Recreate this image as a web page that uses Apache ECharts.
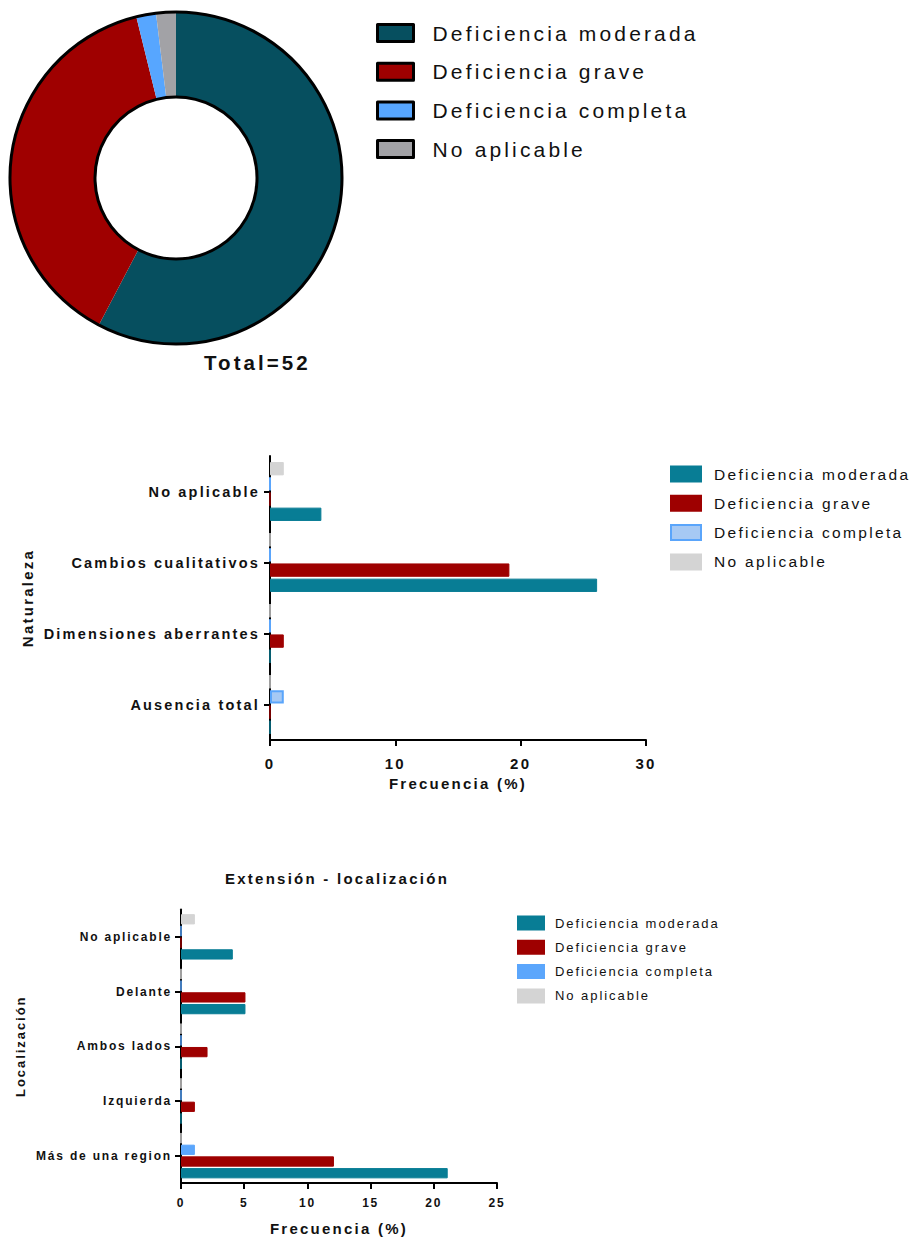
<!DOCTYPE html>
<html>
<head>
<meta charset="utf-8">
<script src="https://cdn.jsdelivr.net/npm/echarts@6/dist/echarts.min.js"></script>
<style>
  html, body { margin: 0; padding: 0; background: #fff; }
  .panel { position: absolute; left: 0; width: 915px; }
  /* spaced-out lettering used throughout the figure */
  .panel text { letter-spacing: 0.15em; }
</style>
</head>
<body>
<div id="c1" class="panel" style="top:0;height:400px"></div>
<div id="c2" class="panel" style="top:400px;height:420px"></div>
<div id="c3" class="panel" style="top:820px;height:421px"></div>
<script>
// ---- data ----
const severityNames = ['Deficiencia moderada', 'Deficiencia grave', 'Deficiencia completa', 'No aplicable'];
const patientCounts = [30, 20, 1, 1];

const natureCategories = ['Ausencia total', 'Dimensiones aberrantes', 'Cambios cualitativos', 'No aplicable'];
const natureModerada = [0, 0, 26.1, 4.1];
const natureGrave = [0, 1.1, 19.1, 0];
const natureCompleta = [1.1, 0, 0, 0];
const natureNoAplicable = [0, 0, 0, 1.1];
const natureTicks = [0, 10, 20, 30];

const locationCategories = ['Más de una region', 'Izquierda', 'Ambos lados', 'Delante', 'No aplicable'];
const locationModerada = [21.1, 0, 0, 5.1, 4.1];
const locationGrave = [12.1, 1.1, 2.1, 5.1, 0];
const locationCompleta = [1.1, 0, 0, 0, 0];
const locationNoAplicable = [0, 0, 0, 0, 1.1];
const locationTicks = [0, 5, 10, 15, 20, 25];

// ---- styling ----
const FONT = '"Liberation Sans", Arial, Helvetica, sans-serif';
const INK = '#111';
const pieColors = ['#064f5f', '#9f0000', '#57a6ff', '#a2a2a6'];
const barColors = ['#087d95', '#9e0000', '#5ba6fc', '#d4d4d4'];

// ---- donut: severity distribution ----
const total = patientCounts.reduce((a, b) => a + b, 0);
const c1 = echarts.init(document.getElementById('c1'), null, { renderer: 'svg' });
c1.setOption({
  animation: false,
  textStyle: { fontFamily: FONT },
  title: {
    text: 'Total=' + total, left: 204, top: 352, padding: 0,
    textStyle: { fontSize: 20.5, fontWeight: 'bold', color: INK, fontFamily: FONT }
  },
  legend: {
    orient: 'vertical', left: 376, top: 21, padding: 0,
    itemWidth: 36, itemHeight: 17, itemGap: 14.7, icon: 'rect',
    data: severityNames,
    itemStyle: { borderColor: '#000', borderWidth: 3 },
    textStyle: { fontSize: 21, color: INK, lineHeight: 24, padding: [0, 0, 0, 14], fontFamily: FONT }
  },
  series: [
    {
      type: 'pie', center: [176, 178], radius: [81, 166], startAngle: 90,
      silent: true, label: { show: false }, labelLine: { show: false },
      itemStyle: { borderWidth: 0 },
      data: severityNames.map((n, i) => ({ name: n, value: patientCounts[i], itemStyle: { color: pieColors[i] } }))
    },
    {
      // black outline of the ring
      type: 'pie', center: [176, 178], radius: [81, 166], z: 5,
      silent: true, label: { show: false }, labelLine: { show: false },
      itemStyle: { color: 'rgba(0,0,0,0)', borderColor: '#000', borderWidth: 3 },
      data: [{ value: 1 }]
    }
  ]
});

// ---- horizontal grouped bars ----
// Series are added last-to-first so that "Deficiencia moderada" sits at the
// bottom of each category group; the legend keeps the natural order.
function barSeries(values, gap, catGap) {
  const list = values.map((d, i) => {
    const isCompleta = i === 2 && gap.lightCompleta;
    return {
      name: severityNames[i], type: 'bar', data: d,
      barGap: gap.barGap, barCategoryGap: catGap,
      itemStyle: isCompleta
        ? { color: '#a6c9f4', borderColor: '#5aa5fb', borderWidth: 2 }
        : { color: barColors[i], borderColor: barColors[i], borderWidth: 1 }
    };
  });
  return list.reverse();
}

function barOption(o) {
  return {
    animation: false,
    textStyle: { fontFamily: FONT },
    title: o.title ? {
      text: o.title, left: o.titleLeft, top: o.titleTop, padding: 0,
      textStyle: { fontSize: o.titleSize, fontWeight: 'bold', color: INK, fontFamily: FONT }
    } : undefined,
    legend: {
      orient: 'vertical', left: o.legend.left, top: o.legend.top, padding: 0,
      itemWidth: o.legend.w, itemHeight: o.legend.h, itemGap: o.legend.gap, icon: 'rect',
      data: severityNames,
      textStyle: { fontSize: o.legend.fs, lineHeight: o.legend.lh, color: INK, padding: [0, 0, 0, o.legend.pad], fontFamily: FONT }
    },
    grid: o.grid,
    xAxis: {
      type: 'value', min: o.ticks[0], max: o.ticks[o.ticks.length - 1], interval: o.ticks[1] - o.ticks[0],
      name: 'Frecuencia (%)', nameLocation: 'middle', nameGap: o.xNameGap,
      nameTextStyle: { fontSize: o.xNameSize, fontWeight: 'bold', color: INK, fontFamily: FONT },
      axisLine: { show: true, lineStyle: { color: '#000', width: 2 } },
      axisTick: { show: true, length: 6, lineStyle: { color: '#000', width: 2 } },
      splitLine: { show: false },
      axisLabel: { fontSize: o.xLabelSize, fontWeight: 'bold', color: INK, margin: o.xLabelMargin, fontFamily: FONT }
    },
    yAxis: {
      type: 'category', data: o.categories,
      name: o.yName, nameLocation: 'middle', nameGap: o.yNameGap,
      nameTextStyle: { fontSize: o.yNameSize, fontWeight: 'bold', color: INK, fontFamily: FONT },
      axisLine: { show: true, lineStyle: { color: '#000', width: 2 } },
      axisTick: { show: true, alignWithLabel: true, length: 6, lineStyle: { color: '#000', width: 2 } },
      splitLine: { show: false },
      axisLabel: { fontSize: o.yLabelSize, fontWeight: 'bold', color: INK, margin: o.yLabelMargin, fontFamily: FONT }
    },
    series: barSeries(o.values, { barGap: '14%', lightCompleta: o.lightCompleta }, o.catGap)
  };
}

// ---- Naturaleza ----
const c2 = echarts.init(document.getElementById('c2'), null, { renderer: 'svg' });
c2.setOption(barOption({
  categories: natureCategories,
  values: [natureModerada, natureGrave, natureCompleta, natureNoAplicable],
  ticks: natureTicks,
  grid: { left: 270, right: 269, top: 56, bottom: 80 },
  catGap: '17%',
  lightCompleta: true,
  xNameGap: 34, xNameSize: 15, xLabelSize: 15, xLabelMargin: 16,
  yName: 'Naturaleza', yNameGap: 235, yNameSize: 15, yLabelSize: 14.5, yLabelMargin: 10,
  legend: { left: 670, top: 65, w: 30, h: 15, gap: 11.3, fs: 15.5, lh: 18, pad: 8 }
}));

// ---- Extensión - localización ----
const c3 = echarts.init(document.getElementById('c3'), null, { renderer: 'svg' });
c3.setOption(barOption({
  title: 'Extensión - localización', titleLeft: 225, titleTop: 51, titleSize: 15,
  categories: locationCategories,
  values: [locationModerada, locationGrave, locationCompleta, locationNoAplicable],
  ticks: locationTicks,
  grid: { left: 181, right: 418, top: 89.5, bottom: 54 },
  catGap: '17%',
  lightCompleta: false,
  xNameGap: 38, xNameSize: 15, xLabelSize: 12, xLabelMargin: 14,
  yName: 'Localización', yNameGap: 154, yNameSize: 13, yLabelSize: 12, yLabelMargin: 9,
  legend: { left: 517, top: 95.5, w: 26, h: 13, gap: 9.3, fs: 13, lh: 15, pad: 6 }
}));
</script>
</body>
</html>
